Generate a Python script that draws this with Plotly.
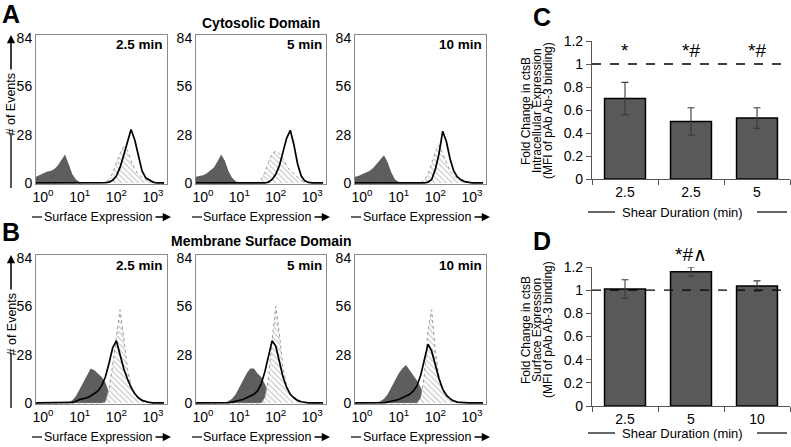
import plotly.graph_objects as go

W, H = 791, 447
FONT = "Liberation Sans, Arial, sans-serif"

# ---- histogram data (bins in log10 units of surface expression) ----
log_bins = [-0.2, -0.1, 0.0, 0.1, 0.2, 0.3, 0.4, 0.5, 0.6, 0.7, 0.8, 0.9,
            1.0, 1.1, 1.2, 1.3, 1.4, 1.5, 1.6, 1.7, 1.8, 1.9, 2.0, 2.1,
            2.2, 2.3, 2.4, 2.5, 2.6, 2.7, 2.8, 2.9, 3.0, 3.1, 3.2, 3.3]

cyto_iso_25 = [3.5, 4.5, 5.5, 6.5, 7, 8, 10, 13, 16.5, 11, 5, 2,
               0.5, 0, 0, 0, 0, 0, 0, 0, 0, 0, 0, 0,
               0, 0, 0, 0, 0, 0, 0, 0, 0, 0, 0, 0]
cyto_hatch_25 = [0, 0, 0, 0, 0, 0, 0, 0, 0, 0, 0, 0,
                 0, 0, 0, 0, 0, 0, 0, 0.5, 2, 6, 12, 17,
                 21, 19, 13, 8, 5, 3, 1.5, 0.8, 0.3, 0, 0, 0]
cyto_line_25 = [0, 0, 0, 0, 0, 0, 0, 0, 0, 0, 0, 0,
                0, 0, 0, 0, 0, 0, 0, 0.2, 0.5, 1.5, 4, 9,
                16, 24, 31, 25, 15, 7, 3, 1.5, 0.5, 0, 0, 0]

cyto_iso_5 = [3.5, 4, 4.5, 5.5, 7, 9, 12.5, 16.5, 13, 7, 3, 1,
              0.2, 0, 0, 0, 0, 0, 0, 0, 0, 0, 0, 0,
              0, 0, 0, 0, 0, 0, 0, 0, 0, 0, 0, 0]
cyto_hatch_5 = [0, 0, 0, 0, 0, 0, 0, 0, 0, 0, 0, 0,
                0, 0, 0, 0, 0, 0.3, 2, 6, 12, 17, 18.5, 17,
                14, 10, 7, 5, 3, 1.5, 0.8, 0.3, 0, 0, 0, 0]
cyto_line_5 = [0, 0, 0, 0, 0, 0, 0, 0, 0, 0, 0, 0,
               0, 0, 0, 0, 0, 0, 0, 0, 0.5, 2, 5, 10,
               18, 26, 30.5, 22, 11, 4, 1.2, 0.3, 0, 0, 0, 0]

cyto_iso_10 = [3.5, 4, 5, 6, 7, 8.5, 11, 14, 16, 12, 6, 2,
               0.5, 0, 0, 0, 0, 0, 0, 0, 0, 0, 0, 0,
               0, 0, 0, 0, 0, 0, 0, 0, 0, 0, 0, 0]
cyto_hatch_10 = [0, 0, 0, 0, 0, 0, 0, 0, 0, 0, 0, 0,
                 0, 0, 0, 0, 0, 0, 0.3, 1.5, 5, 11, 18, 22,
                 17, 11, 7, 4, 2.5, 1.2, 0.5, 0.2, 0, 0, 0, 0]
cyto_line_10 = [0, 0, 0, 0, 0, 0, 0, 0, 0, 0, 0, 0,
                0, 0, 0, 0, 0, 0, 0, 0, 0.5, 2, 8, 17,
                30, 24, 14, 7, 3.5, 1.8, 0.8, 0.3, 0.1, 0, 0, 0]

memb_iso_25 = [0, 0, 0, 0, 0, 0, 0, 0, 0, 0.3, 1.5, 4,
               8, 12, 16, 20, 19, 17, 15, 12, 6, 2, 0.3, 0,
               0, 0, 0, 0, 0, 0, 0, 0, 0, 0, 0, 0]
memb_hatch_25 = [0, 0, 0, 0, 0, 0, 0, 0, 0, 0, 0, 0,
                 0, 0, 0, 0, 0, 0, 0, 0.5, 8, 22, 38, 54,
                 38, 20, 10, 5, 2.5, 1, 0.4, 0.1, 0, 0, 0, 0]
memb_line_25 = [0, 0, 0, 0, 0, 0, 0, 0, 0, 0, 0.3, 1,
                2, 2.5, 3, 4, 5.5, 7, 10, 15, 23, 32, 36, 28,
                20, 14, 9, 5.5, 3, 1.5, 0.7, 0.3, 0.1, 0, 0, 0]

memb_iso_5 = [0, 0, 0, 0, 0, 0, 0, 0, 0.3, 1, 2.5, 5,
              9, 13, 17, 20, 20, 17, 15, 11, 6, 2, 0.5, 0,
              0, 0, 0, 0, 0, 0, 0, 0, 0, 0, 0, 0]
memb_hatch_5 = [0, 0, 0, 0, 0, 0, 0, 0, 0, 0, 0, 0,
                0, 0, 0, 0, 0, 0, 0, 3, 14, 36, 56, 40,
                20, 10, 5, 2.5, 1, 0.4, 0, 0, 0, 0, 0, 0]
memb_line_5 = [0, 0, 0, 0, 0, 0, 0, 0, 0, 0.2, 0.5, 1,
               1.5, 2, 3, 4, 5, 7, 11, 18, 28, 36, 33, 24,
               15, 9, 5, 3, 1.5, 0.7, 0.3, 0, 0, 0, 0, 0]

memb_iso_10 = [0, 0, 0, 0, 0, 0, 0.3, 1, 2.5, 5, 9, 13,
               17, 20, 22, 19, 16, 13, 9, 4, 1.5, 0.3, 0, 0,
               0, 0, 0, 0, 0, 0, 0, 0, 0, 0, 0, 0]
memb_hatch_10 = [0, 0, 0, 0, 0, 0, 0, 0, 0, 0, 0, 0,
                 0, 0, 0, 0, 0, 0, 3, 16, 42, 54, 30, 15,
                 7, 3.5, 1.5, 0.6, 0.2, 0, 0, 0, 0, 0, 0, 0]
memb_line_10 = [0, 0, 0, 0, 0, 0, 0, 0, 0.2, 0.5, 1, 1.5,
                2, 3, 4, 5, 7, 10, 16, 26, 34, 30, 22, 14,
                8, 4.5, 2.5, 1.2, 0.5, 0.2, 0, 0, 0, 0, 0, 0]

time_labels = ["2.5 min", "5 min", "10 min"]
hist_ticks = [0, 28, 56, 84]
decades = [0, 1, 2, 3]

# ---- bar chart data ----
c_labels = ["2.5", "2.5", "5"]
c_values = [0.70, 0.50, 0.53]
c_err = [0.14, 0.12, 0.09]
c_sig = ["*", "*#", "*#"]

d_labels = ["2.5", "5", "10"]
d_values = [1.01, 1.16, 1.035]
d_err = [0.08, 0.04, 0.045]
d_sig = ["", "*#∧", ""]


def fx(p):
    return p / W


def fy(p):
    return 1 - p / H


def label(px, py, text, size, angle=0, xanchor="center"):
    return dict(x=fx(px), y=fy(py), xref="paper", yref="paper",
                xanchor=xanchor, yanchor="middle", showarrow=False,
                text=text, textangle=angle,
                font=dict(size=size, color="black", family=FONT))


fig = go.Figure()

xs = [10 ** v for v in log_bins]
rows = [
    ((35, 184), [(cyto_iso_25, cyto_hatch_25, cyto_line_25),
                 (cyto_iso_5, cyto_hatch_5, cyto_line_5),
                 (cyto_iso_10, cyto_hatch_10, cyto_line_10)]),
    ((255, 404), [(memb_iso_25, memb_hatch_25, memb_line_25),
                  (memb_iso_5, memb_hatch_5, memb_line_5),
                  (memb_iso_10, memb_hatch_10, memb_line_10)]),
]
cols = [(36, 167), (196, 326), (355, 486)]

layout_axes = {}
annotations = []
shapes = []
n = 0
for (top, bot), panels in rows:
    for ci, (iso, hatch, line) in enumerate(panels):
        n += 1
        xa = "x" if n == 1 else "x%d" % n
        ya = "y" if n == 1 else "y%d" % n
        fig.add_trace(go.Scatter(
            x=xs, y=iso, xaxis=xa, yaxis=ya, mode="lines",
            fill="tozeroy", fillcolor="#5e5e5e",
            line=dict(width=0, color="#5e5e5e"), showlegend=False))
        fig.add_trace(go.Scatter(
            x=xs, y=hatch, xaxis=xa, yaxis=ya, mode="lines",
            fill="tozeroy",
            fillpattern=dict(shape="\\", fgcolor="#7a7a7a", bgcolor="white",
                             size=4, solidity=0.25),
            line=dict(width=1, color="#9a9a9a", dash="dot"), showlegend=False))
        fig.add_trace(go.Scatter(
            x=xs, y=line, xaxis=xa, yaxis=ya, mode="lines",
            line=dict(width=1.7, color="black"), showlegend=False))

        l, r = cols[ci]
        layout_axes["xaxis" if n == 1 else "xaxis%d" % n] = dict(
            domain=[fx(l), fx(r)], anchor=ya, type="log",
            range=[-0.19, 3.38], automargin=False,
            tickvals=[10 ** d for d in decades],
            ticktext=["10<sup>%d</sup>" % d for d in decades],
            tickfont=dict(size=14, color="black"),
            showline=True, mirror=True, linecolor="#8a8a8a", linewidth=1,
            showgrid=False, zeroline=False, ticks="")
        layout_axes["yaxis" if n == 1 else "yaxis%d" % n] = dict(
            domain=[fy(bot), fy(top)], anchor=xa, range=[-0.6, 85.7],
            automargin=False,
            tickvals=hist_ticks, tickfont=dict(size=14, color="black"),
            showline=True, mirror=True, linecolor="#8a8a8a", linewidth=1,
            showgrid=False, zeroline=False, ticks="")

        # time label inside panel
        annotations.append(label(r - 2, top + 10, "<b>%s</b>" % time_labels[ci],
                                 13.5, xanchor="right"))

        # surface expression label with line and arrow
        ly = bot + 33
        cx = (l + r) / 2 - 4
        annotations.append(label(cx, ly, "Surface Expression", 12.5))
        shapes.append(dict(type="line", xref="paper", yref="paper",
                           x0=fx(l - 4), x1=fx(l + 6), y0=fy(ly), y1=fy(ly),
                           line=dict(color="black", width=1.2)))
        annotations.append(dict(
            x=fx(r + 4), y=fy(ly), xref="paper", yref="paper", text="",
            showarrow=True, ax=-17, ay=0, arrowhead=2, arrowsize=1.1,
            arrowwidth=1.5, arrowcolor="black"))

    # "# of Events" label on first column
    mid = (top + bot) / 2 - 5
    annotations.append(label(11, mid, "# of Events", 12.5, angle=-90))
    annotations.append(dict(
        x=fx(11), y=fy(top), xref="paper", yref="paper", text="",
        showarrow=True, ax=0, ay=36,
        arrowhead=2, arrowsize=1.1, arrowwidth=1.5, arrowcolor="black"))
    shapes.append(dict(type="line", xref="paper", yref="paper",
                       x0=fx(11), x1=fx(11), y0=fy(mid + 29), y1=fy(bot + 4),
                       line=dict(color="black", width=1.3)))

# section titles
annotations.append(label(261, 23, "<b>Cytosolic Domain</b>", 14))
annotations.append(label(261, 241, "<b>Membrane Surface Domain</b>", 14))

# panel letters
for letter, px, py in [("A", 11, 14), ("B", 11, 232), ("C", 542, 17), ("D", 542, 241)]:
    annotations.append(label(px, py, "<b>%s</b>" % letter, 25))

# ---- bar charts ----
bar_specs = [
    (7, c_labels, c_values, c_err, c_sig, (41, 179), 51,
     ["Fold Change in ctsB", "Intracellular Expression", "(MFI of pAb Ab-3 binding)"], 212, 111),
    (8, d_labels, d_values, d_err, d_sig, (267, 406), 254,
     ["Fold Change in ctsB", "Surface Expression", "(MFI of pAb Ab-3 binding)"], 433, 330),
]
for k, labels, vals, errs, sig, (top, bot), sig_py, ytitle, title_y, ymid in bar_specs:
    xa, ya = "x%d" % k, "y%d" % k
    pos = list(range(len(labels)))
    fig.add_trace(go.Bar(
        x=pos, y=vals, xaxis=xa, yaxis=ya, width=0.62,
        marker=dict(color="#595959", line=dict(color="black", width=1.5)),
        error_y=dict(type="data", array=errs, color="#3a3a3a",
                     thickness=1.1, width=3.5),
        showlegend=False))
    layout_axes["xaxis%d" % k] = dict(
        domain=[fx(592), fx(790)], anchor=ya, range=[-0.5, 2.5],
        automargin=False,
        tickmode="array", tickvals=pos, ticktext=labels,
        tickfont=dict(size=14, color="black"), ticks="",
        minor=dict(ticks="outside", tick0=0.5, dtick=1, ticklen=5,
                   tickcolor="#555", tickwidth=1),
        showline=True, linecolor="#555", linewidth=1.2,
        showgrid=False, zeroline=False)
    layout_axes["yaxis%d" % k] = dict(
        domain=[fy(bot), fy(top)], anchor=xa, range=[0, 1.2], dtick=0.2,
        automargin=False,
        tickfont=dict(size=14, color="black"), ticks="outside", ticklen=5,
        tickcolor="#555", showline=True, linecolor="#555", linewidth=1.2,
        showgrid=False, zeroline=False)
    # reference line at 1
    shapes.append(dict(type="line", xref="%s domain" % xa, yref=ya,
                       x0=0, x1=1, y0=1, y1=1, layer="above",
                       line=dict(color="black", width=1.3, dash="dash")))
    # significance marks (x on the category axis, y in page space)
    for p, s in zip(pos, sig):
        if s:
            annotations.append(dict(
                x=p, y=fy(sig_py), xref=xa, yref="paper", xanchor="center",
                yanchor="middle", showarrow=False, text=s,
                font=dict(size=19, color="black", family=FONT)))
    # y title (three lines, rotated)
    for j, t in enumerate(ytitle):
        annotations.append(label(526 + 11 * j, ymid, t, 12, angle=-90))
    # x title with side lines
    annotations.append(label(682, title_y, "Shear Duration (min)", 13))
    shapes.append(dict(type="line", xref="paper", yref="paper",
                       x0=fx(588), x1=fx(615), y0=fy(title_y), y1=fy(title_y),
                       line=dict(color="black", width=1.2)))
    shapes.append(dict(type="line", xref="paper", yref="paper",
                       x0=fx(757), x1=fx(787), y0=fy(title_y), y1=fy(title_y),
                       line=dict(color="black", width=1.2)))

fig.update_layout(
    width=W, height=H,
    margin=dict(l=0, r=0, t=0, b=0, pad=0, autoexpand=False),
    paper_bgcolor="white", plot_bgcolor="white",
    font=dict(family=FONT, color="black"),
    annotations=annotations, shapes=shapes,
    **layout_axes)

# page body has a default margin; remove it so the figure fills the window
fig.write_html("out.html", config={"displayModeBar": False},
               post_script="document.body.style.margin='0';")
